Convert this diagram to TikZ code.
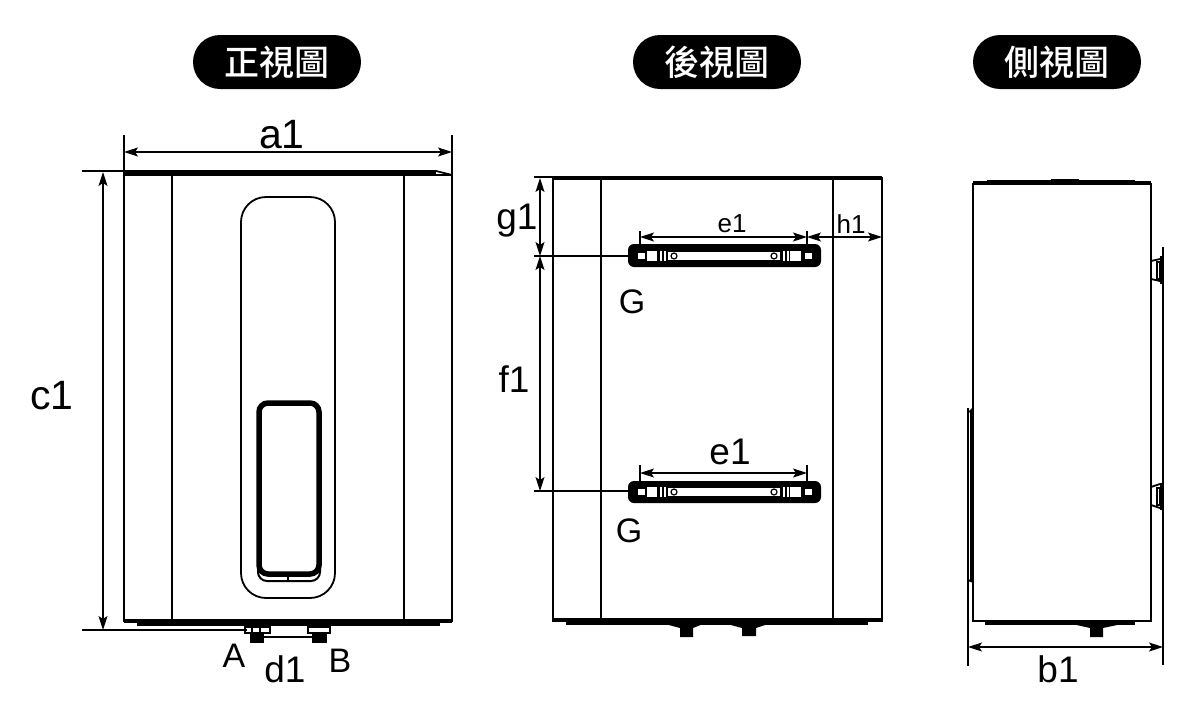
\documentclass[tikz,border=0pt]{standalone}
\usepackage{fontspec}
\usepackage{tikz}
\usetikzlibrary{arrows.meta}
\setmainfont{Liberation Sans}
\newfontfamily\cjkfont{Noto Sans CJK TC Medium}
\tikzset{
    dimline/.style={line width=1.2pt, {Stealth[length=14pt,width=9pt,inset=3pt]}-{Stealth[length=14pt,width=9pt,inset=3pt]}},
    extline/.style={line width=1.2pt},
    bodyline/.style={line width=1.8pt},
    heavyline/.style={line width=3.2pt},
    titlepill/.style={fill=black, text=white, rounded corners=27pt, minimum width=168pt, minimum height=54pt, inner sep=0pt, font=\cjkfont\fontsize{35}{35}\selectfont},
    widelabel/.style={inner sep=0pt, font=\fontsize{41}{41}\selectfont},
    biglabel/.style={inner sep=0pt, font=\fontsize{37}{37}\selectfont},
    letterlabel/.style={inner sep=0pt, font=\fontsize{34}{34}\selectfont},
    smalllabel/.style={inner sep=0pt, font=\fontsize{26}{26}\selectfont}
}

\begin{document}
\begin{tikzpicture}[x=1pt,y=-1pt]
        \useasboundingbox (0,0) rectangle (1200,726);

        \node[titlepill] (front) at (277,62) {正視圖};
        \node[titlepill] (rear) at (717,62) {後視圖};
        \node[titlepill] (side) at (1057,62) {側視圖};

        % front view
        \draw[bodyline] (124,172) -- (124,621) -- (452,621) -- (452,175);
        \draw[heavyline] (124,172) -- (436,172);
        \draw[line width=1.8pt] (124,175) -- (452,175);
        \draw[line width=1.8pt] (436,171) -- (452,175);
        \draw[bodyline] (172,172) -- (172,621);
        \draw[bodyline] (404,172) -- (404,621);
        \draw[bodyline, rounded corners=25pt] (241,197) rectangle (335,598);
        \draw[line width=5.5pt, rounded corners=9pt] (259,403) rectangle (319,574);
        \draw[line width=2pt, rounded corners=9pt] (258,560) -- (258,581) -- (320,581) -- (320,560);
        \draw[line width=1.2pt] (288,575) -- (288,582);
        \draw[heavyline] (124,621) -- (452,621);
        \draw[line width=3pt] (137,624) -- (440,624);
        \fill (245,624) rectangle (270,627);
        \draw[line width=1.2pt] (245,627) rectangle (270,633);
        \draw[line width=1.2pt] (252,627) -- (252,633);
        \draw[line width=1.2pt] (260,627) -- (260,633);
        \fill (250,633) rectangle (264,643);
        \fill (308,624) rectangle (330,627);
        \draw[line width=1.2pt] (308,627) rectangle (330,633);
        \fill (312,633) rectangle (327,643);

        \coordinate (a1left) at (124,152);
        \coordinate (a1right) at (452,152);
        \coordinate (c1top) at (103,172);
        \coordinate (c1bottom) at (103,630);
        \coordinate (d1left) at (264,637);
        \coordinate (d1right) at (312,637);
        \draw[dimline] (a1left) -- (a1right);
        \draw[line width=1.8pt] (124,135) -- (124,172);
        \draw[line width=1.8pt] (452,135) -- (452,175);
        \draw[dimline] (c1top) -- (c1bottom);
        \draw[line width=1.8pt] (82,171) -- (124,171);
        \draw[extline] (82,630) -- (247,630);
        \draw[extline] (d1left) -- (d1right);
        \node[widelabel] (a1) at (282,135) {a1};
        \node[widelabel] (c1) at (52,396) {c1};
        \node[biglabel] (d1) at (285,669) {d1};
        \node[letterlabel] (A) at (234,656) {A};
        \node[letterlabel] (B) at (340,661) {B};

        % rear view
        \draw[bodyline] (553,178) rectangle (882,621);
        \draw[heavyline] (553,178) -- (882,178);
        \draw[bodyline] (601,178) -- (601,621);
        \draw[bodyline] (833,178) -- (833,621);
        \draw[heavyline] (553,620) -- (882,620);
        \draw[line width=3pt] (566,623) -- (868,623);
        \fill (665,624) -- (703,624) -- (693,628) -- (693,637) -- (680,637) -- (680,628) -- cycle;
        \fill (727,624) -- (768,624) -- (756,628) -- (756,636) -- (742,636) -- (742,628) -- cycle;

        % upper bracket
        \fill[rounded corners=6pt] (628,244) rectangle (821,267);
        \fill[white] (668,252) rectangle (780,260);
        \fill[white] (647,251) rectangle (657,261);
        \fill[white] (790,251) rectangle (801,261);
        \fill[white] (638,253) rectangle (645,259);
        \fill[white] (805,253) rectangle (812,259);
        \fill[white] (660,251) rectangle (662,261);
        \fill[white] (664,251) rectangle (666,261);
        \fill[white] (783,251) rectangle (785,261);
        \fill[white] (787,251) rectangle (789,261);
        \draw[line width=1.2pt, fill=white] (674,256) circle (3);
        \draw[line width=1.2pt, fill=white] (774,256) circle (3);

        % lower bracket
        \fill[rounded corners=6pt] (628,481) rectangle (821,503);
        \fill[white] (668,488) rectangle (780,496);
        \fill[white] (647,487) rectangle (657,497);
        \fill[white] (790,487) rectangle (801,497);
        \fill[white] (638,489) rectangle (645,495);
        \fill[white] (805,489) rectangle (812,495);
        \fill[white] (660,487) rectangle (662,497);
        \fill[white] (664,487) rectangle (666,497);
        \fill[white] (783,487) rectangle (785,497);
        \fill[white] (787,487) rectangle (789,497);
        \draw[line width=1.2pt, fill=white] (674,492) circle (3);
        \draw[line width=1.2pt, fill=white] (774,492) circle (3);

        \coordinate (g1top) at (540,178);
        \coordinate (g1bottom) at (540,256);
        \coordinate (f1top) at (540,256);
        \coordinate (f1bottom) at (540,491);
        \coordinate (e1upperleft) at (640,237);
        \coordinate (e1upperright) at (807,237);
        \coordinate (h1right) at (882,237);
        \coordinate (e1lowerleft) at (640,473);
        \coordinate (e1lowerright) at (807,473);
        \draw[dimline] (g1top) -- (g1bottom);
        \draw[dimline] (f1top) -- (f1bottom);
        \draw[extline] (534,177) -- (553,177);
        \draw[extline] (534,256) -- (628,256);
        \draw[extline] (534,491) -- (628,491);
        \draw[dimline] (e1upperleft) -- (e1upperright);
        \draw[dimline] (e1upperright) -- (h1right);
        \draw[dimline] (e1lowerleft) -- (e1lowerright);
        \draw[extline] (640,231) -- (640,246);
        \draw[extline] (807,231) -- (807,246);
        \draw[extline] (640,465) -- (640,482);
        \draw[extline] (807,465) -- (807,482);
        \node[biglabel] (g1) at (517,221) {g1};
        \node[biglabel] (f1) at (514,379) {f1};
        \node[letterlabel] (Gupper) at (632,302) {G};
        \node[letterlabel] (Glower) at (629,531) {G};
        \node[smalllabel] (e1upper) at (732,224) {e1};
        \node[smalllabel] (h1) at (851,224) {h1};
        \node[biglabel] (e1lower) at (730,452) {e1};

        % side view
        \draw[bodyline] (973,183) -- (973,621) -- (1151,621) -- (1151,183);
        \draw[heavyline] (973,183) -- (1151,183);
        \draw[line width=3.5pt] (987,182) -- (1135,182);
        \draw[line width=4.5pt] (1051,181) -- (1079,181);
        \draw[line width=3.5pt] (985,623) -- (1135,623);
        \fill (1072,624) -- (1122,624) -- (1103,628) -- (1103,637) -- (1090,637) -- (1090,628) -- cycle;
        \draw[line width=1.2pt] (968,413) -- (973,408);
        \draw[bodyline] (968,413) -- (968,580) -- (973,582);
        \draw[line width=1.2pt] (971,410) -- (971,582);
        \draw[bodyline] (1151,261) -- (1160,259);
        \draw[bodyline] (1151,279) -- (1160,281);
        \draw[line width=1.2pt] (1157,262) rectangle (1160,279);
        \fill (1160,256) rectangle (1163,284);
        \draw[bodyline] (1151,487) -- (1160,484);
        \draw[bodyline] (1151,505) -- (1160,508);
        \draw[line width=1.2pt] (1157,488) rectangle (1160,505);
        \fill (1160,483) rectangle (1163,510);

        \coordinate (b1left) at (968,647);
        \coordinate (b1right) at (1163,647);
        \draw[dimline] (b1left) -- (b1right);
        \draw[extline] (968,408) -- (968,666);
        \draw[extline] (1163,247) -- (1163,665);
        \node[biglabel] (b1) at (1058,669) {b1};
    \end{tikzpicture}
\end{document}
